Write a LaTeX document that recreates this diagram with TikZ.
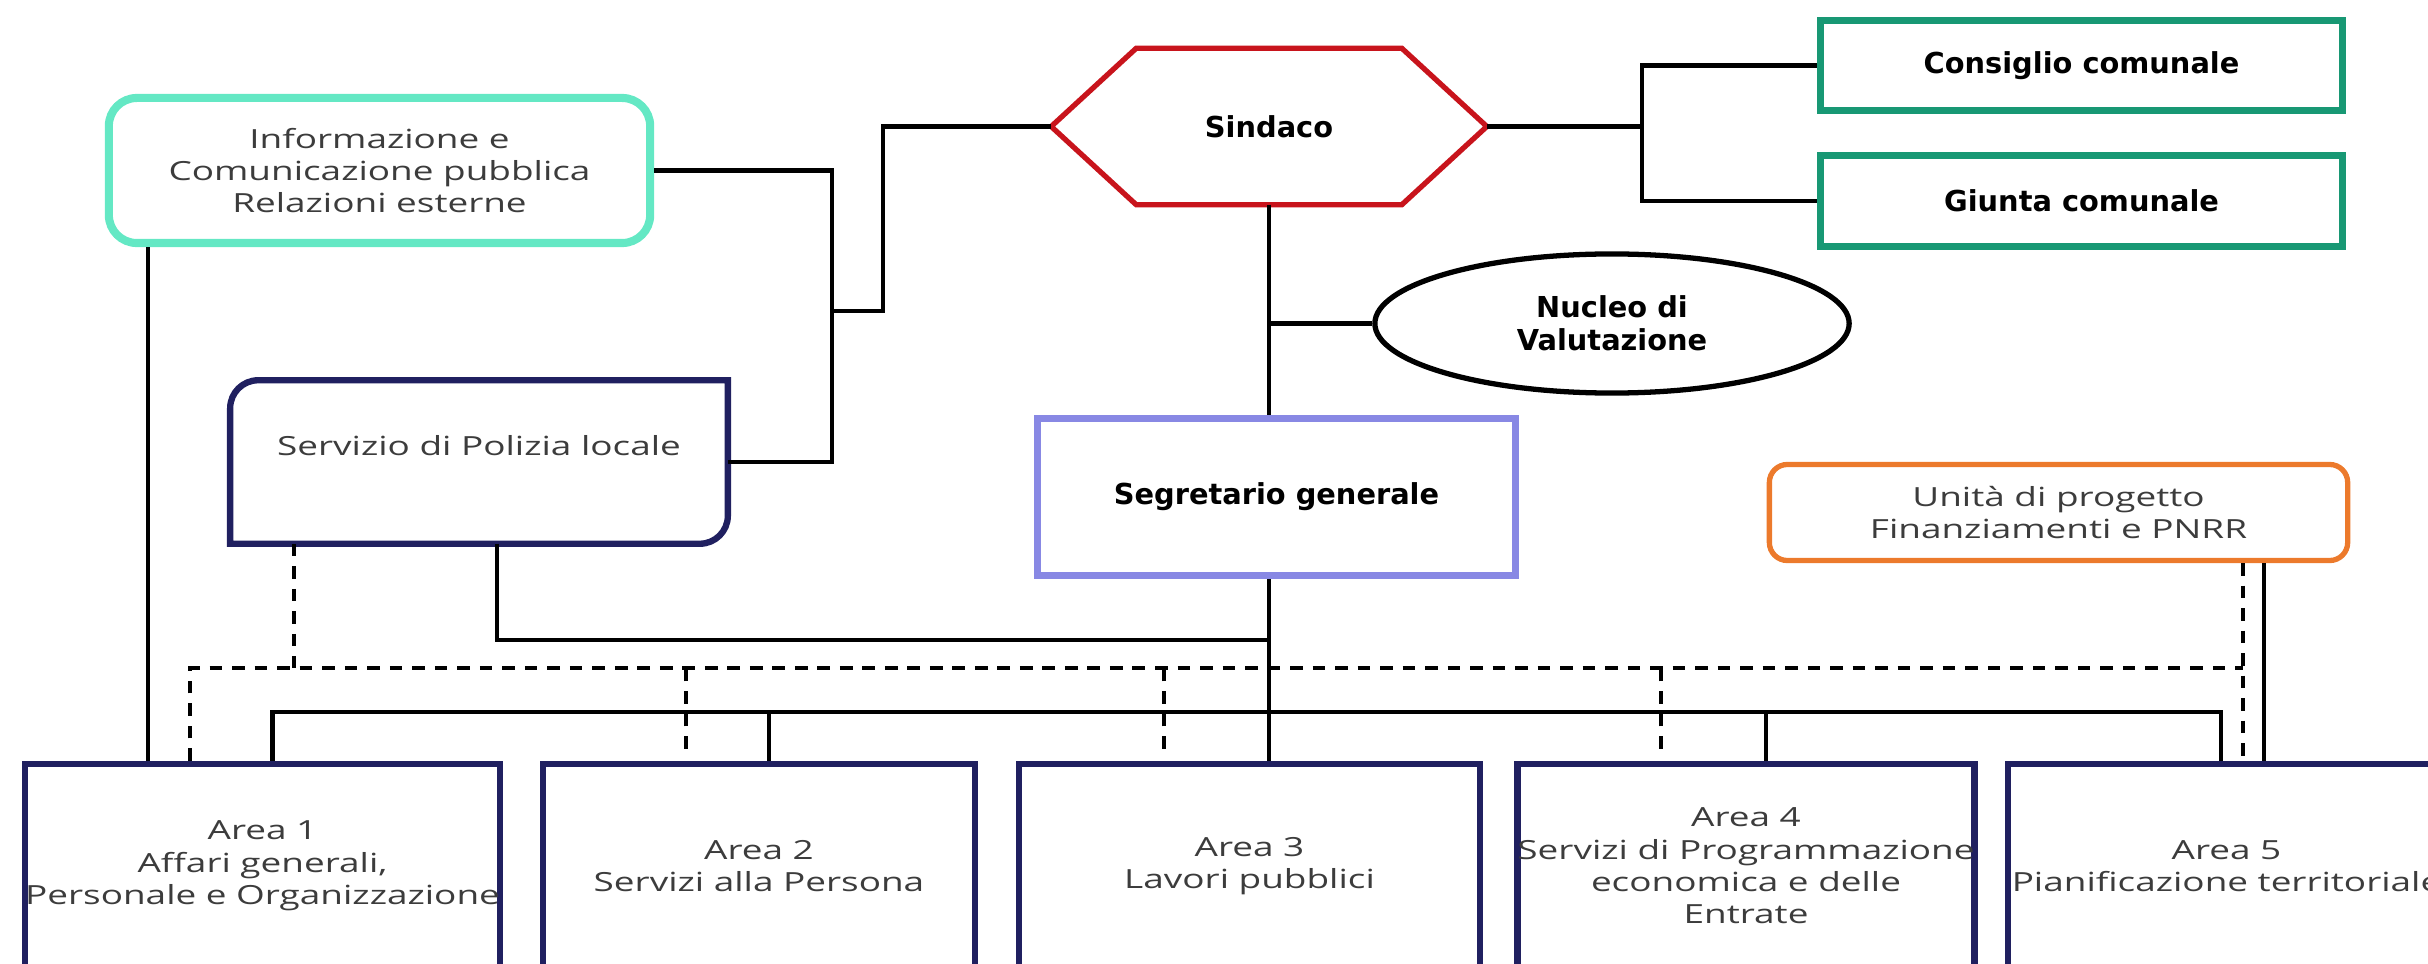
\documentclass[tikz,border=0pt]{standalone}
\usepackage{fontspec}
\setmainfont{Open Sans}[FakeStretch=1.4]
\newfontfamily\boldfont{DejaVu Sans}
\usetikzlibrary{shapes.geometric}
\definecolor{infoteal}{RGB}{100,232,196}
\definecolor{navy}{RGB}{32,32,96}
\definecolor{sindred}{RGB}{200,20,28}
\definecolor{councilgreen}{RGB}{24,152,116}
\definecolor{segrlav}{RGB}{136,136,228}
\definecolor{unitorange}{RGB}{236,122,44}
\definecolor{textgray}{RGB}{60,60,60}
\begin{document}
\begin{tikzpicture}[x=0.01cm,y=-0.01cm,
    conn/.style={line width=1.3pt},
    dconn/.style={line width=1.2pt,dash pattern=on 3.6pt off 2.8pt},
    light/.style={text=textgray,font=\fontsize{7.5}{9.2}\selectfont,align=center,inner sep=0pt},
    heavy/.style={font=\boldfont\bfseries\fontsize{8.2}{9.4}\selectfont,align=center,inner sep=0pt}]
    \tikzstyle{area}=[draw=navy,line width=1.8pt,light,minimum height=2.04cm]

    \useasboundingbox (0,0) rectangle (2428,964);
    \clip (0,0) rectangle (2428,964);

    \node[light,draw=infoteal,line width=2.3pt,rounded corners=0.28cm,minimum width=5.41cm,minimum height=1.45cm] (info) at (379.5,170.5) {Informazione e\\Comunicazione pubblica\\Relazioni esterne};
    \node[light,minimum width=4.96cm,minimum height=1.62cm] (poli) at (479,462) {Servizio di Polizia locale\\~};
    \draw[navy,line width=1.8pt] (poli.south west) -- ([yshift=-0.28cm]poli.north west) arc[start angle=180,end angle=90,radius=0.28cm]
        -- (poli.north east) -- ([yshift=0.28cm]poli.south east) arc[start angle=0,end angle=-90,radius=0.28cm] -- cycle;
    \node[heavy,minimum width=4.34cm,minimum height=1.55cm] (sind) at (1269,126.5) {Sindaco};
    \draw[sindred,line width=1.5pt] (sind.west) -- ([xshift=0.85cm]sind.north west) -- ([xshift=-0.85cm]sind.north east)
        -- (sind.east) -- ([xshift=-0.85cm]sind.south east) -- ([xshift=0.85cm]sind.south west) -- cycle;
    \node[heavy,draw=councilgreen,line width=2pt,minimum width=5.22cm,minimum height=0.9cm] (cons) at (2081.5,65.5) {Consiglio comunale};
    \node[heavy,draw=councilgreen,line width=2pt,minimum width=5.22cm,minimum height=0.91cm] (giun) at (2081.5,201) {Giunta comunale};
    \node[heavy,draw,ellipse,line width=1.5pt,minimum width=4.74cm,minimum height=1.39cm] (nucl) at (1612,323.5) {Nucleo di\\Valutazione};
    \node[heavy,draw=segrlav,line width=2pt,minimum width=4.78cm,minimum height=1.57cm] (segr) at (1276.5,497) {Segretario generale};
    \node[light,draw=unitorange,line width=1.5pt,rounded corners=0.18cm,minimum width=5.78cm,minimum height=0.96cm] (unit) at (2058.5,512.5) {Unità di progetto\\Finanziamenti e PNRR};

    \node[area,minimum width=4.73cm] (a1) at (262.5,866) {Area 1\\Affari generali,\\Personale e Organizzazione};
    \node[area,minimum width=4.32cm] (a2) at (759,866) {Area 2\\Servizi alla Persona};
    \node[area,minimum width=4.61cm] (a3) at (1249.5,866) {Area 3\\Lavori pubblici};
    \node[area,minimum width=4.52cm] (a4) at (1746,866) {Area 4\\Servizi di Programmazione\\economica e delle\\Entrate};
    \node[area,minimum width=4.37cm] (a5) at (2226.5,866) {Area 5\\Pianificazione territoriale};

    \coordinate (jL) at (832,311);
    \coordinate (jS) at (883,311);
    \coordinate (jR) at (1642,126.5);
    \coordinate (busP) at (1269,640);
    \coordinate (bus) at (1269,712);
    \coordinate (dR) at (2243,668);

    \draw[conn] (info.east) -| (jL) |- (poli.east);
    \draw[conn] (jL) -- (jS) |- (sind.west);
    \draw[conn] (sind.east) -- (jR);
    \draw[conn] (cons.west) -| (jR) |- (giun.west);
    \draw[conn] (sind.south) -- (sind.south |- segr.north);
    \draw[conn] (sind.south |- nucl.west) -- (nucl.west);
    \draw[conn] (sind.south |- segr.south) -- (sind.south |- a3.north);
    \draw[conn] ([xshift=0.18cm]poli.south) |- (busP);
    \draw[conn] ([xshift=0.1cm]a1.north) |- (bus) -| ([xshift=-0.055cm]a5.north);
    \foreach \n/\dx in {a2/0.1,a4/0.2}
        \draw[conn] ([xshift=\dx cm]\n.north) -- ([xshift=\dx cm]\n.north |- bus);
    \draw[conn] ([xshift=-2.315cm]info.south) -- ([xshift=-2.315cm]info.south |- a1.north);
    \draw[conn] ([xshift=2.055cm]unit.south) -- ([xshift=2.055cm]unit.south |- a5.north);

    \draw[dconn] ([xshift=-0.725cm]a1.north) |- (dR);
    \draw[dconn] (unit.south -| dR) -- (dR |- a5.north);
    \draw[dconn] ([xshift=-1.85cm]poli.south) -- ([xshift=-1.85cm]poli.south |- dR);
    \foreach \n/\dx in {a2/-0.73,a3/-0.855,a4/-0.85}
        \draw[dconn] ([xshift=\dx cm,yshift=0.12cm]\n.north) -- ([xshift=\dx cm]\n.north |- dR);

\end{tikzpicture}
\end{document}
